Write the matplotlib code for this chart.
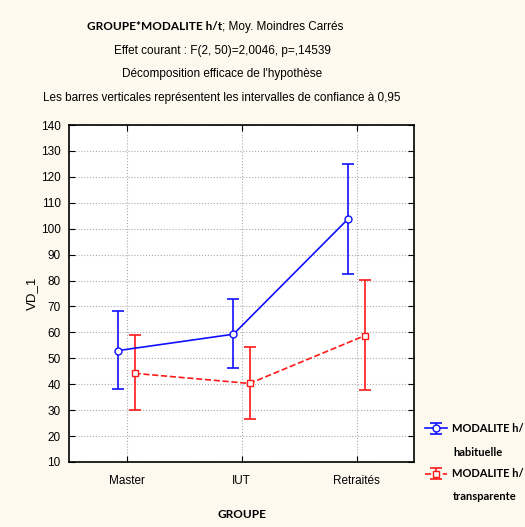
import matplotlib
matplotlib.use("Agg")
import matplotlib.pyplot as plt
import numpy as np

groups = ["Master", "IUT", "Retraités"]
hab_mean = np.array([53.0, 59.3, 103.9])
hab_low = np.array([38.2, 46.3, 82.7])
hab_high = np.array([68.2, 72.9, 125.1])
tra_mean = np.array([44.2, 40.3, 58.7])
tra_low = np.array([30.0, 26.6, 37.6])
tra_high = np.array([58.9, 54.4, 80.3])
yticks = list(range(10, 141, 10))

narrow = ['Liberation Sans Narrow', 'Liberation Sans', 'DejaVu Sans']
plt.rcParams['font.family'] = narrow

fig = plt.figure(figsize=(5.25, 5.27), dpi=100, facecolor='#fdf9ef')
ax = fig.add_axes([69/525, 1-462/527, 345/525, 337/527])
ax.set_facecolor('white')

x = np.arange(len(groups))
off = 0.07
eb1 = ax.errorbar(x - off, hab_mean, yerr=[hab_mean - hab_low, hab_high - hab_mean],
                  color='#1010ff', lw=1.2, marker='o', ms=5, mfc='white', mec='#1010ff',
                  capsize=4, capthick=1.2, elinewidth=1.2, zorder=3)
eb2 = ax.errorbar(x + off, tra_mean, yerr=[tra_mean - tra_low, tra_high - tra_mean],
                  color='#ff1a1a', lw=1.2, ls='--', marker='s', ms=5, mfc='white', mec='#ff1a1a',
                  capsize=4, capthick=1.2, elinewidth=1.2, zorder=3)

ax.set_xlim(-0.5, 2.5)
ax.set_ylim(10, 140)
ax.set_xticks(x)
ax.set_xticklabels(groups)
ax.set_yticks(yticks)
ax.grid(True, color='#aaaaaa', ls=':', lw=0.8)
ax.tick_params(direction='in', top=True, right=True, length=4, labelsize=8.5)
ax.tick_params(axis='x', pad=9)
ax.tick_params(axis='y', pad=6)
for s in ax.spines.values():
    s.set_linewidth(1.2)
ax.set_ylabel("VD_1", fontsize=9.5, labelpad=2)
ax.set_xlabel("GROUPE", fontsize=8.5, fontweight='bold', family=['Lato', 'DejaVu Sans'], labelpad=16)

cx = 222/525
fig.text(cx, 1-27/527, r"GROUPE*MODALITE h/t" , ha='right', va='center', fontsize=8.5,
         fontweight='bold', family=['Lato', 'DejaVu Sans'], transform=fig.transFigure)
fig.text(cx, 1-27/527, "; Moy. Moindres Carrés", ha='left', va='center', fontsize=8.5)
fig.text(cx, 1-51/527, "Effet courant : F(2, 50)=2,0046, p=,14539", ha='center', va='center', fontsize=8.5)
fig.text(cx, 1-74/527, "Décomposition efficace de l'hypothèse", ha='center', va='center', fontsize=8.5)
fig.text(cx, 1-98/527, "Les barres verticales représentent les intervalles de confiance à 0,95",
         ha='center', va='center', fontsize=8.5)

leg_font = {'family': ['Lato', 'DejaVu Sans'], 'weight': 'bold', 'size': 8}
leg = ax.legend([eb1, eb2], ["MODALITE h/", "MODALITE h/"],
                loc='upper left', bbox_to_anchor=(425/525, 1-423/527), bbox_transform=fig.transFigure,
                frameon=False, handlelength=2.0, handletextpad=0.45, borderpad=0.0,
                borderaxespad=0.0, labelspacing=3.1, prop=leg_font)
fig.text(453/525, 1-452/527, "habituelle", ha='left', va='center', **{'fontsize': 8, 'fontweight': 'bold', 'family': ['Lato', 'DejaVu Sans']})
fig.text(453/525, 1-497/527, "transparente", ha='left', va='center', **{'fontsize': 8, 'fontweight': 'bold', 'family': ['Lato', 'DejaVu Sans']})

fig.savefig("out.png", dpi=100, facecolor=fig.get_facecolor())
